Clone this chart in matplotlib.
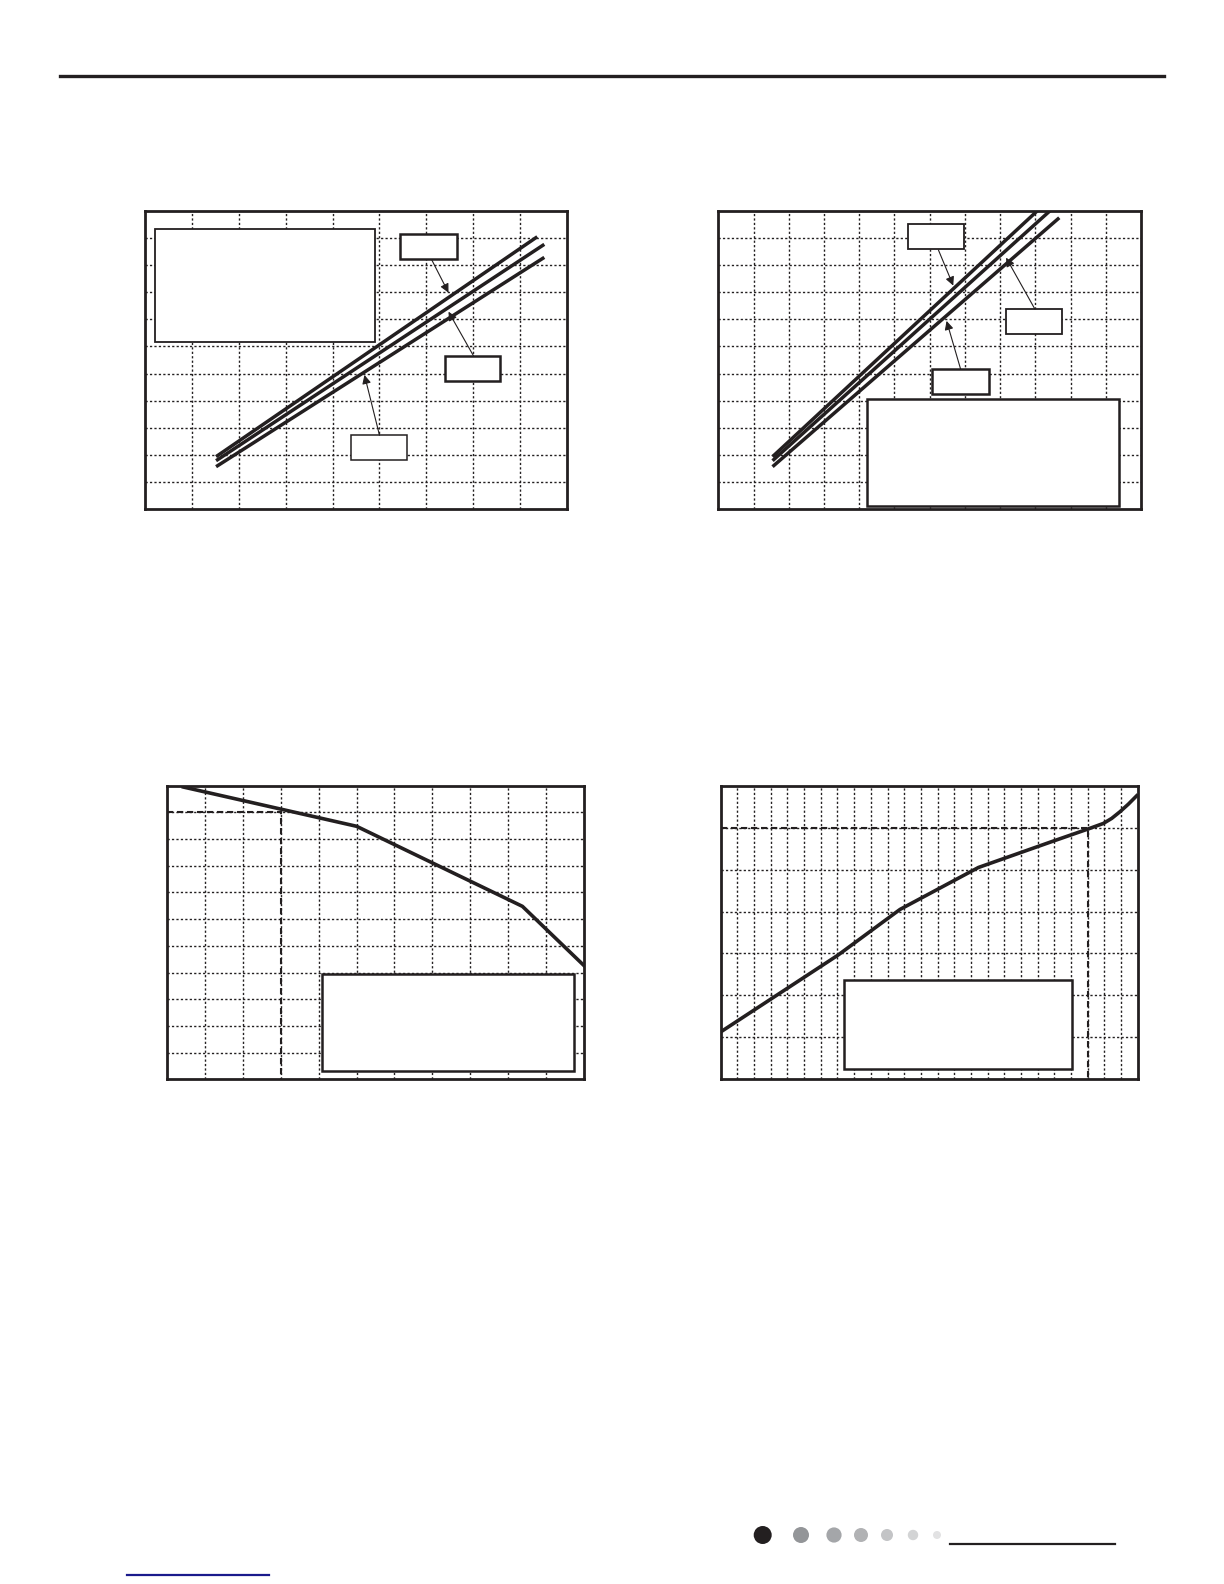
import numpy as np
import matplotlib
matplotlib.use("Agg")
import matplotlib.pyplot as plt
from matplotlib.patches import Rectangle, Circle

W, H = 1224, 1584
INK = "#231f20"

# chart 1: three straight lines (top, middle, bottom)
c1_x = [[1.52, 8.36], [1.52, 8.51], [1.52, 8.51]]
c1_y = [[1.94, 10.04], [1.79, 9.76], [1.57, 9.28]]

# chart 2: three steeper lines
c2_x = [[1.54, 9.06], [1.54, 9.42], [1.54, 9.68]]
c2_y = [[1.94, 11.0], [1.79, 11.0], [1.57, 10.74]]

# chart 3: falling polyline, reference point
c3_x = [0.44, 5.0, 9.37, 11.0]
c3_y = [10.95, 9.48, 6.48, 4.25]
c3_ref = (3, 10)

# chart 4: rising curve, reference point
c4_x = [0.04, 7.03, 10.75, 15.45, 19.94, 22.04, 22.94, 23.44, 23.94, 24.44, 24.94]
c4_y = [1.14, 2.96, 4.05, 5.05, 5.68, 5.97, 6.10, 6.22, 6.38, 6.56, 6.76]
c4_ref = (22, 6)

# footer dots: grey levels
dot_colors = ["#231f20", "#939598", "#a4a6a9", "#b1b2b4", "#c3c4c6", "#d3d4d5", "#e2e2e3"]
dot_radius = [9, 8, 7.6, 7, 6, 5.2, 4]
dot_x = [762.7, 801, 834, 861, 887, 913, 937]


def px_axes(fig, x0, y0, x1, y1, **kw):
    return fig.add_axes([x0 / W, 1 - y1 / H, (x1 - x0) / W, (y1 - y0) / H], **kw)


def grid_box(ax, nx, ny):
    ax.set_xlim(0, nx)
    ax.set_ylim(0, ny)
    ax.set_xticks(np.arange(1, nx))
    ax.set_yticks(np.arange(1, ny))
    ax.tick_params(length=0, labelbottom=False, labelleft=False)
    ax.grid(True, color=INK, lw=1.0, linestyle=(0, (1.6, 1.6)))
    ax.set_axisbelow(True)
    for s in ax.spines.values():
        s.set_linewidth(2.0)
        s.set_color(INK)
        s.set_zorder(6)


def label_box(ax, x0, y0, x1, y1, lw=1.3):
    ax.add_patch(Rectangle((x0, y0), x1 - x0, y1 - y0, facecolor="white",
                           edgecolor=INK, lw=lw, zorder=4))


def arrow(ax, start, end):
    ax.annotate("", xy=end, xytext=start,
                arrowprops=dict(arrowstyle="-|>", color=INK, lw=0.8,
                                mutation_scale=13, shrinkA=0, shrinkB=0),
                zorder=5)


fig = plt.figure(figsize=(W / 100, H / 100), dpi=100)

# header rule
fig.add_artist(plt.Line2D([60 / W, 1164 / W], [1 - 76.3 / H] * 2, color=INK, lw=2.4))

# chart 1
ax1 = px_axes(fig, 144.7, 210.7, 567.3, 509.3)
grid_box(ax1, 9, 11)
for xs, ys in zip(c1_x, c1_y):
    ax1.plot(xs, ys, color=INK, lw=2.5, zorder=3, solid_capstyle="butt")
label_box(ax1, 0.21, 6.16, 4.91, 10.31, lw=1.3)
label_box(ax1, 5.44, 9.22, 6.66, 10.15, lw=1.8)
label_box(ax1, 6.39, 4.73, 7.57, 5.66, lw=1.8)
label_box(ax1, 4.40, 1.80, 5.59, 2.73, lw=1.1)
arrow(ax1, (6.11, 9.20), (6.47, 7.98))
arrow(ax1, (7.00, 5.66), (6.47, 7.28))
arrow(ax1, (5.00, 2.73), (4.68, 4.95))

# chart 2
ax2 = px_axes(fig, 718.3, 210.7, 1141.0, 509.3)
grid_box(ax2, 12, 11)
for xs, ys in zip(c2_x, c2_y):
    ax2.plot(xs, ys, color=INK, lw=2.5, zorder=3, solid_capstyle="butt")
label_box(ax2, 5.39, 9.58, 6.98, 10.50, lw=1.3)
label_box(ax2, 8.18, 6.45, 9.77, 7.37, lw=1.3)
label_box(ax2, 6.08, 4.24, 7.69, 5.16, lw=1.8)
label_box(ax2, 4.23, 0.12, 11.38, 4.08, lw=1.8)
arrow(ax2, (6.25, 9.55), (6.67, 8.24))
arrow(ax2, (8.99, 7.37), (8.17, 9.27))
arrow(ax2, (6.88, 5.16), (6.48, 6.94))

# chart 3
ax3 = px_axes(fig, 166.7, 785.7, 584.3, 1079.3)
grid_box(ax3, 11, 11)
ax3.plot(c3_x, c3_y, color=INK, lw=2.6, zorder=3)
ax3.plot([0, c3_ref[0], c3_ref[0]], [c3_ref[1], c3_ref[1], 0], color=INK,
         lw=1.5, linestyle=(0, (3, 1.8)), zorder=2)
label_box(ax3, 4.08, 0.32, 10.74, 3.93, lw=1.8)

# chart 4
ax4 = px_axes(fig, 720.7, 785.7, 1137.7, 1079.3)
grid_box(ax4, 25, 7)
ax4.plot(c4_x, c4_y, color=INK, lw=2.6, zorder=3)
ax4.plot([0, c4_ref[0], c4_ref[0]], [c4_ref[1], c4_ref[1], 0], color=INK,
         lw=1.5, linestyle=(0, (3, 1.8)), zorder=2)
label_box(ax4, 7.37, 0.25, 21.06, 2.37, lw=1.8)

# footer: dots, rule and blue link underline
fax = fig.add_axes([0, 0, 1, 1], facecolor="none")
fax.set_xlim(0, W)
fax.set_ylim(H, 0)
fax.axis("off")
for x, r, c in zip(dot_x, dot_radius, dot_colors):
    fax.add_patch(Circle((x, 1535), r, color=c, lw=0))
fax.plot([950, 1115], [1544, 1544], color=INK, lw=1.6)
fax.plot([127, 269], [1575, 1575], color="#1a1a8c", lw=1.6)

fig.savefig("out.png", dpi=100)
